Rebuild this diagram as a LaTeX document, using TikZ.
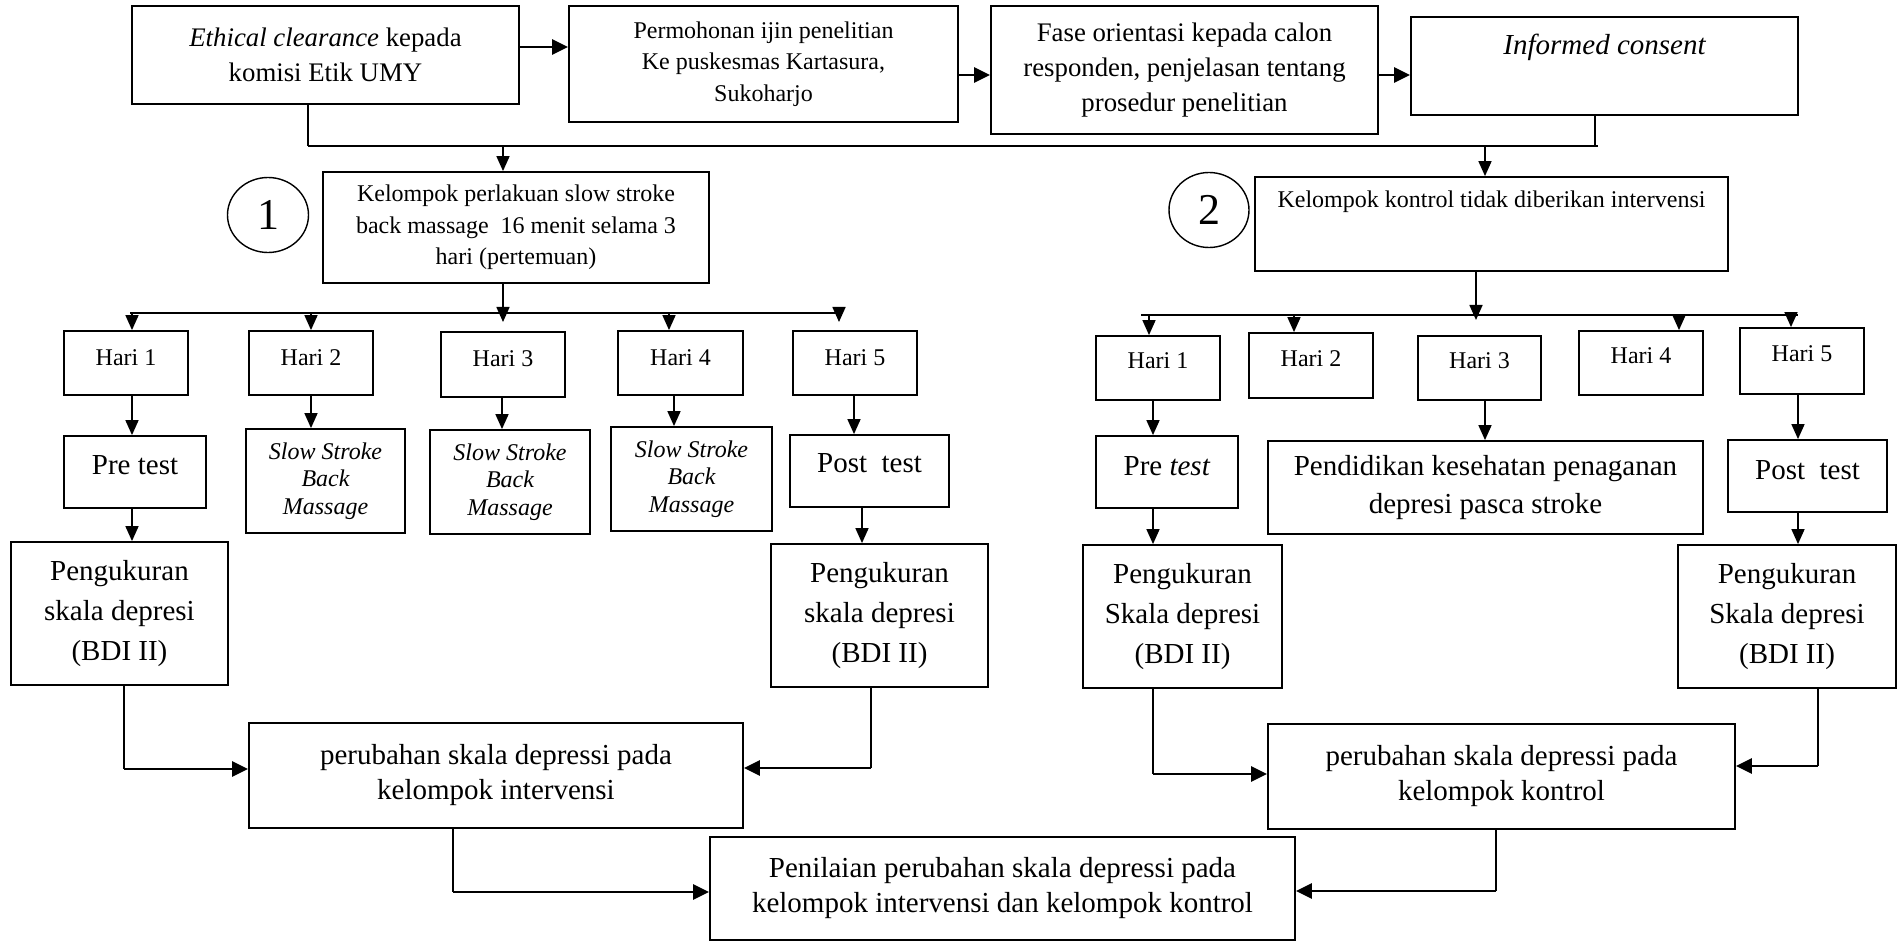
\documentclass[tikz,border=0pt]{standalone}
\usepackage{fontspec}
\setmainfont{Liberation Serif}
\usetikzlibrary{arrows.meta,shapes.geometric}
\tikzset{
  bx/.style 2 args={draw, line width=0.9pt, inner sep=0pt, align=center,
     minimum width=#1*0.5pt, minimum height=#2*0.5pt},
  fS/.style={font=\fontsize{12}{15.8}\selectfont},
  fM/.style={font=\fontsize{13.4}{17.4}\selectfont},
  fL/.style={font=\fontsize{14.5}{20}\selectfont},
  fP/.style={font=\fontsize{14.5}{17.5}\selectfont},
  fI/.style={font=\fontsize{12}{13.8}\selectfont\itshape},
  fN/.style={font=\fontsize{22}{26}\selectfont},
  lift/.style 2 args={text height=#1, text depth=#2},
  ln/.style={line width=0.55pt},
  bus/.style={line width=1.1pt},
  arr/.style={line width=0.8pt, -{Triangle[length=7.5pt,width=6.5pt]}},
  arrT/.style={line width=1.4pt, -{Triangle[length=8pt,width=7.5pt]}},
  circ/.style={draw, ellipse, line width=0.7pt, inner sep=0pt}
}
\begin{document}
\begin{tikzpicture}[x=0.5pt,y=-0.5pt]
\path[use as bounding box, fill=white] (0,0) rectangle (1902,941);

% top row
\node[bx={387}{98}, fM] (A) at (325.5,55) {\textit{Ethical clearance} kepada\\komisi Etik UMY};
\node[bx={389}{116}, fS] (B) at (763.5,64) {Permohonan ijin penelitian\\Ke puskesmas Kartasura,\\Sukoharjo};
\node[bx={387}{128}, fM] (C) at (1184.5,70) {Fase orientasi kepada calon\\responden, penjelasan tentang\\prosedur penelitian};
\node[bx={387}{98}] (D) at (1604.5,66) {};
\node[font=\fontsize{14.5}{17}\selectfont\itshape, inner sep=0pt] (tD) at (1604.5,47) {Informed consent};

\draw[arrT] ([yshift=4pt]A.east) -- ([yshift=4pt]A.east -| B.west);
\draw[arrT] ([yshift=-5.5pt]B.east) -- ([yshift=-5.5pt]B.east -| C.west);
\draw[arrT] ([yshift=-2.5pt]C.east) -- ([yshift=-2.5pt]C.east -| D.west);

% group boxes
\node[bx={386}{111}, fS] (K1) at (516,227.5) {Kelompok perlakuan slow stroke\\back massage~ 16 menit selama 3\\hari (pertemuan)};
\node[bx={473}{94}] (K2) at (1491.5,224) {};
\node[fS, inner sep=0pt] (tK2) at (1491.5,202) {Kelompok kontrol tidak diberikan intervensi};
\node[circ, minimum width=81*0.5pt, minimum height=75*0.5pt, fN] (C1) at (268,215) {1};
\node[circ, minimum width=80*0.5pt, minimum height=75*0.5pt, fN] (C2) at (1209,210) {2};

% main bus
\coordinate (bL) at (308,146);
\coordinate (bR) at (1598,146);
\coordinate (dX) at (1595,146);
\coordinate (k1a) at (503,146);
\coordinate (k2a) at (1485,146);
\draw[ln] (A.south -| bL) -- (bL);
\draw[bus] (bL) -- (bR);
\draw[ln] (D.south -| dX) -- (dX);
\draw[arr] (k1a) -- (k1a |- K1.north);
\draw[arr] (k2a) -- (k2a |- K2.north);

% left Hari boxes
\node[bx={124}{64}, fS, lift={8pt}{6pt}] (L1) at (126,363) {Hari 1};
\node[bx={124}{64}, fS, lift={8pt}{6pt}] (L2) at (311,363) {Hari 2};
\node[bx={124}{65}, fS, lift={8pt}{6pt}] (L3) at (503,364.5) {Hari 3};
\node[bx={125}{64}, fS, lift={8pt}{6pt}] (L4) at (680.5,363) {Hari 4};
\node[bx={124}{64}, fS, lift={8pt}{6pt}] (L5) at (855,363) {Hari 5};

% right Hari boxes
\node[bx={124}{64}, fS, lift={8pt}{7pt}] (R1) at (1158,368) {Hari 1};
\node[bx={124}{65}, fS, lift={8pt}{7pt}] (R2) at (1311,365.5) {Hari 2};
\node[bx={123}{64}, fS, lift={8pt}{7pt}] (R3) at (1479.5,368) {Hari 3};
\node[bx={124}{64}, fS, lift={8pt}{7pt}] (R4) at (1641,363) {Hari 4};
\node[bx={124}{66}, fS, lift={8pt}{7pt}] (R5) at (1802,361) {Hari 5};

% left bus
\coordinate (lb1) at (130,313);
\coordinate (lb2) at (839,313);
\coordinate (k1b) at (503,322);
\coordinate (lt5) at (839,322);
\draw[bus] (lb1) -- (lb2);
\draw[arr] (K1.south -| k1b) -- (k1b);
\draw[arr] (132,313) coordinate (lt1) -- (lt1 |- L1.north);
\draw[arr] (311,313) coordinate (lt2) -- (lt2 |- L2.north);
\draw[arr] (669,313) coordinate (lt4) -- (lt4 |- L4.north);
\draw[arr] (lb2) -- (lt5);

% right bus
\coordinate (rb1) at (1141,315);
\coordinate (rb2) at (1798,315);
\coordinate (k2b) at (1476,320);
\draw[bus] (rb1) -- (rb2);
\draw[arr] (K2.south -| k2b) -- (k2b);
\draw[arr] (1149,315) coordinate (rt1) -- (rt1 |- R1.north);
\draw[arr] (1294,315) coordinate (rt2) -- (rt2 |- R2.north);
\draw[arr] (1679,315) coordinate (rt4) -- (rt4 |- R4.north);
\draw[arr] (1791,315) coordinate (rt5) -- (rt5 |- R5.north);

% left second row
\node[bx={142}{72}, fL, lift={9.6pt}{7pt}] (PL) at (135,472) {Pre test};
\node[bx={159}{104}, fI] (S2) at (325.5,481) {Slow Stroke\\Back\\Massage};
\node[bx={160}{104}, fI] (S3) at (510,482) {Slow Stroke\\Back\\Massage};
\node[bx={161}{104}, fI] (S4) at (691.5,479) {Slow Stroke\\Back\\Massage};
\node[bx={159}{72}, fL, lift={9.6pt}{8pt}] (QL) at (869.5,471) {Post~ test};
\node[bx={217}{143}, fL] (ML) at (119.5,613.5) {Pengukuran\\skala depresi\\(BDI II)};
\node[bx={217}{143}, fL] (MM) at (879.5,615.5) {Pengukuran\\skala depresi\\(BDI II)};

\draw[arr] (L1.south -| 132,0) -- (132,0 |- PL.north);
\draw[arr] (L2.south -| 311,0) -- (311,0 |- S2.north);
\draw[arr] (L3.south -| 502,0) -- (502,0 |- S3.north);
\draw[arr] (L4.south -| 674,0) -- (674,0 |- S4.north);
\draw[arr] (L5.south -| 854,0) -- (854,0 |- QL.north);
\draw[arr] (PL.south -| 132,0) -- (132,0 |- ML.north);
\draw[arr] (QL.south -| 862,0) -- (862,0 |- MM.north);

% right second row
\node[bx={142}{72}, fL, lift={9.6pt}{6pt}] (PR) at (1167,472) {Pre \textit{test}};
\node[bx={435}{93}, fL, font=\fontsize{14.5}{19}\selectfont] (ED) at (1485.5,487.5) {Pendidikan kesehatan penaganan\\depresi pasca stroke};
\node[bx={159}{72}, fL, lift={9.6pt}{6pt}] (QR) at (1807.5,476) {Post~ test};
\node[bx={199}{143}, fL] (MR1) at (1182.5,616.5) {Pengukuran\\Skala depresi\\(BDI II)};
\node[bx={218}{143}, fL] (MR2) at (1787,616.5) {Pengukuran\\Skala depresi\\(BDI II)};

\draw[arr] (R1.south -| 1153,0) -- (1153,0 |- PR.north);
\draw[arr] (R3.south -| 1485,0) -- (1485,0 |- ED.north);
\draw[arr] (R5.south -| 1798,0) -- (1798,0 |- QR.north);
\draw[arr] (PR.south -| 1153,0) -- (1153,0 |- MR1.north);
\draw[arr] (QR.south -| 1798,0) -- (1798,0 |- MR2.north);

% bottom
\node[bx={494}{105}, fP] (P1) at (496,775.5) {perubahan skala depressi pada\\kelompok intervensi};
\node[bx={467}{105}, fP] (P2) at (1501.5,776.5) {perubahan skala depressi pada\\kelompok kontrol};
\node[bx={585}{103}, fP] (F) at (1002.5,888.5) {Penilaian perubahan skala depressi pada\\kelompok intervensi dan kelompok kontrol};

\coordinate (c1) at (124,769);
\coordinate (c2) at (871,768);
\coordinate (c3) at (1153,774);
\coordinate (c4) at (1818,766);
\coordinate (c5) at (453,892);
\coordinate (c6) at (1496,891);
\draw[ln] (ML.south -| c1) -- (c1);
\draw[arrT] (c1) -- (c1 -| P1.west);
\draw[ln] (MM.south -| c2) -- (c2);
\draw[arrT] (c2) -- (c2 -| P1.east);
\draw[ln] (MR1.south -| c3) -- (c3);
\draw[arrT] (c3) -- (c3 -| P2.west);
\draw[ln] (MR2.south -| c4) -- (c4);
\draw[arrT] (c4) -- (c4 -| P2.east);
\draw[ln] (P1.south -| c5) -- (c5);
\draw[arrT] (c5) -- (c5 -| F.west);
\draw[ln] (P2.south -| c6) -- (c6);
\draw[arrT] (c6) -- (c6 -| F.east);
\end{tikzpicture}
\end{document}
